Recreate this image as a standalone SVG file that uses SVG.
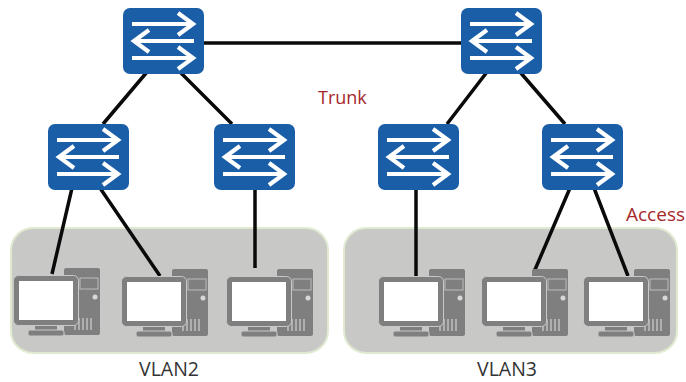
<svg xmlns="http://www.w3.org/2000/svg" width="686" height="382" viewBox="0 0 686 382">
<style>
.zone{fill:#c8c9c7;stroke:#e0ead0;stroke-width:2}
.link{stroke:#0a0a0a;stroke-width:3.5;fill:none}
.ar{fill:none;stroke:#fff;stroke-width:4.2}
.red{font:18px "Open Sans","Liberation Sans",sans-serif;fill:#a5282c}
.lab{font:19.5px "Open Sans","Liberation Sans",sans-serif;fill:#333}
.g{fill:#7f7f7f}
</style>
<defs>
<g id="sw">
<rect width="81" height="66" rx="7" fill="#1a5ea8"/>
<path class="ar" d="M9 16H69M55 5L70 16L55 27"/>
<path class="ar" d="M71 33H12M26 22L11 33L26 44"/>
<path class="ar" d="M9 50H69M55 39L70 50L55 61"/>
</g>
<g id="pc">
<rect x="51" y="0" width="36" height="67" rx="2" class="g"/>
<rect x="67" y="10" width="18" height="11" fill="none" stroke="#bdbdbd" stroke-width="1"/>
<circle cx="82" cy="29" r="2.5" fill="#d8d8d8"/>
<path d="M62 50V62M66 50V62M70 50V62M74 50V62M78 50V62" stroke="#d0d0d0" stroke-width="1.2"/>
<rect x="0.5" y="7.5" width="65" height="50" rx="5" class="g" stroke="#c8c9c7" stroke-width="1"/>
<rect x="6" y="13" width="54" height="39" fill="#fff"/>
<rect x="22" y="58" width="22" height="4" class="g"/>
<rect x="15" y="62" width="36" height="6" rx="2" class="g" stroke="#c8c9c7" stroke-width="1"/>
</g>
</defs>
<rect class="zone" x="11" y="228" width="317" height="125" rx="22"/>
<rect class="zone" x="344" y="228" width="333" height="125" rx="22"/>
<g id="connectors">
<path class="link" d="M203 43H461M147 72L103 124M180 72L232 124M487 72L447 124M520 72L565 124M72 188L52 274M100 188L160 276M255 188V268M416 188V278M570 188L534 272M594 188L628 276"/>
</g>
<g id="sw1"><use href="#sw" x="123" y="8"/></g>
<g id="sw2"><use href="#sw" x="461" y="8"/></g>
<g id="sw3"><use href="#sw" x="48" y="124"/></g>
<g id="sw4"><use href="#sw" x="214" y="124"/></g>
<g id="sw5"><use href="#sw" x="378" y="124"/></g>
<g id="sw6"><use href="#sw" x="542" y="124"/></g>
<g id="pc1"><use href="#pc" x="13" y="268"/></g>
<g id="pc2"><use href="#pc" x="121" y="269"/></g>
<g id="pc3"><use href="#pc" x="226" y="269"/></g>
<g id="pc4"><use href="#pc" x="378" y="269"/></g>
<g id="pc5"><use href="#pc" x="481" y="269"/></g>
<g id="pc6"><use href="#pc" x="583" y="269"/></g>
<text class="red" x="318" y="104">Trunk</text>
<text class="red" x="626" y="221" style="font-size:19px">Access</text>
<text class="lab" x="139" y="376">VLAN2</text>
<text class="lab" x="477" y="376">VLAN3</text>
</svg>
